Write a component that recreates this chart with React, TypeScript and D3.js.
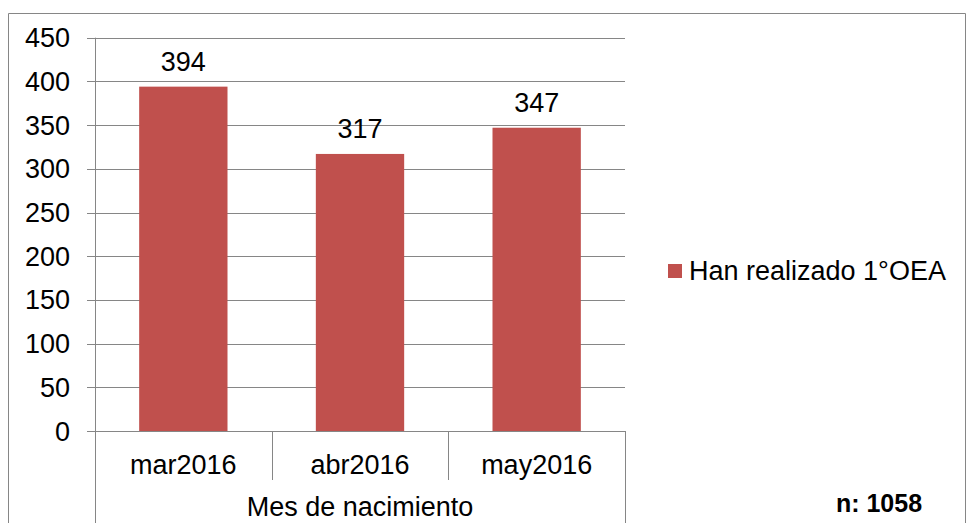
import React from "react";
import * as d3 from "d3";

const categories = ["mar2016", "abr2016", "may2016"];
const values = [394, 317, 347];
const yTicks = [0, 50, 100, 150, 200, 250, 300, 350, 400, 450];
const seriesName = "Han realizado 1°OEA";
const axisTitle = "Mes de nacimiento";
const note = "n: 1058";

const W = 966;
const H = 523;
const FONT = "'Liberation Sans', Arial, sans-serif";
const GRID = "#868686";
const BAR = "#C0504D";
const FS = 27;

export default function App() {
  const left = 95;
  const right = 625;
  const y = d3.scaleLinear().domain([0, 450]).range([431, 37.7]);
  const x = d3.scaleBand().domain(categories).range([left, right]).paddingInner(0.5).paddingOuter(0.25);
  const xc = d3.scaleBand().domain(categories).range([left, right]);

  return (
    <svg width={W} height={H} style={{ position: "absolute", left: 0, top: 0, background: "#fff" }}>
      <rect x={0} y={0} width={W} height={H} fill="#fff" />
      <path d={`M8.5,${H} V13.5 H965.5 V${H}`} fill="none" stroke={GRID} strokeWidth={1} />
      {yTicks.map((t) => (
        <g key={t}>
          <line x1={87} x2={right} y1={Math.round(y(t)) + 0.5} y2={Math.round(y(t)) + 0.5} stroke={GRID} strokeWidth={1} />
          <text x={70} y={y(t) + 9.5} textAnchor="end" fontFamily={FONT} fontSize={FS} fill="#000">
            {t}
          </text>
        </g>
      ))}
      <line x1={left + 0.5} x2={left + 0.5} y1={y(450)} y2={H} stroke={GRID} strokeWidth={1} />
      {categories.map((c, i) => (
        <g key={c}>
          <rect x={x(c)} y={y(values[i])} width={x.bandwidth()} height={y(0) - y(values[i])} fill={BAR} />
          <text x={(x(c) as number) + x.bandwidth() / 2} y={y(values[i]) - 16} textAnchor="middle" fontFamily={FONT} fontSize={FS} fill="#000">
            {values[i]}
          </text>
          <text x={(xc(c) as number) + xc.bandwidth() / 2} y={474} textAnchor="middle" fontFamily={FONT} fontSize={FS} fill="#000">
            {c}
          </text>
        </g>
      ))}
      {categories.slice(1).map((c) => (
        <line key={c} x1={Math.round(xc(c) as number) + 0.5} x2={Math.round(xc(c) as number) + 0.5} y1={431} y2={480} stroke={GRID} strokeWidth={1} />
      ))}
      <line x1={right + 0.5} x2={right + 0.5} y1={431} y2={H} stroke={GRID} strokeWidth={1} />
      <text x={(left + right) / 2} y={516} textAnchor="middle" fontFamily={FONT} fontSize={FS} fill="#000">
        {axisTitle}
      </text>
      <rect x={668} y={264} width={14} height={14} fill={BAR} />
      <text x={689} y={279.5} fontFamily={FONT} fontSize={FS} fill="#000">
        {seriesName}
      </text>
      <text x={879} y={512} textAnchor="middle" fontFamily={FONT} fontSize={25} fontWeight="bold" fill="#000">
        {note}
      </text>
    </svg>
  );
}
